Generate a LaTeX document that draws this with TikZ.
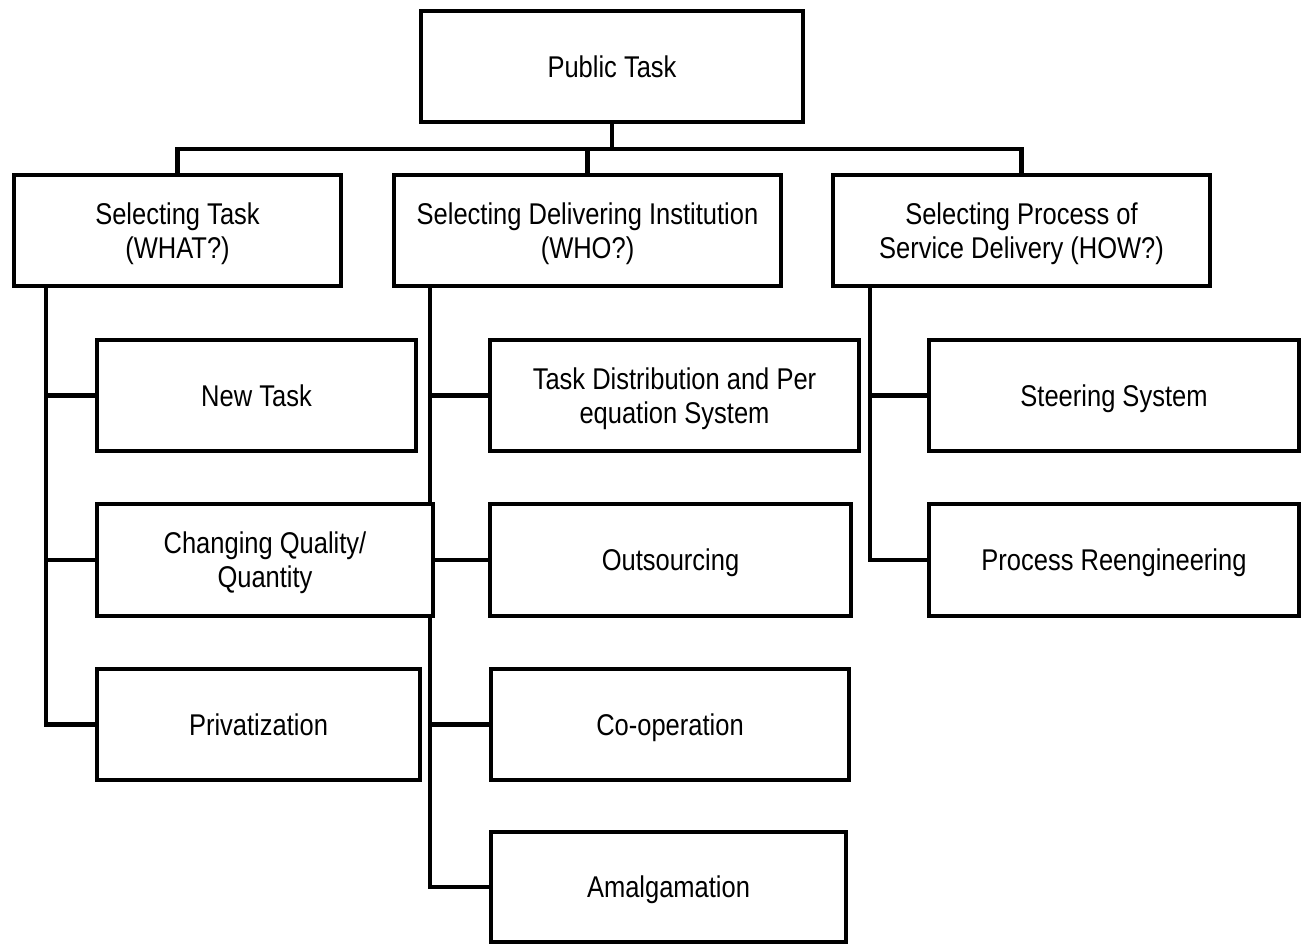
\documentclass[tikz,border=0pt]{standalone}
\usepackage{fontspec}
\setmainfont{Liberation Sans}[FakeStretch=0.85]
\usetikzlibrary{backgrounds}
\newcommand\tstrut{\rule{0pt}{28pt}}
\begin{document}
\begin{tikzpicture}[x=1pt,y=-1pt,
  box/.style={draw,line width=4.6pt,fill=white,rectangle,inner sep=0pt,outer sep=0pt,
    minimum height=111pt,align=center,font=\fontsize{30}{34}\selectfont},
  single/.style={box,text height=21.5pt,text depth=0pt},
  conn/.style={line width=4.6pt,line cap=butt,line join=miter}]
\useasboundingbox (0,0) rectangle (1302,946);
% level 1
\node[single,minimum width=382pt] (pt) at (612,66.5) {Public Task};
% level 2
\node[box,minimum width=327pt] (st) at (177.5,230.5) {\tstrut Selecting Task\\(WHAT?)};
\node[box,minimum width=387pt] (sd) at (587.5,230.5) {\tstrut Selecting Delivering Institution\\(WHO?)};
\node[box,minimum width=377pt] (sp) at (1021.5,230.5) {\tstrut Selecting Process of\\Service Delivery (HOW?)};
% left column
\node[single,minimum width=319pt] (nt) at (256.5,395.5) {New Task};
\node[box,minimum width=336pt,minimum height=112pt] (cq) at (265,560) {\tstrut Changing Quality/\\Quantity};
\node[single,minimum width=323pt] (pv) at (258.5,724.5) {Privatization};
% middle column
\node[box,minimum width=369pt] (td) at (674.5,395.5) {\tstrut Task Distribution and Per\\equation System};
\node[single,minimum width=361pt,minimum height=112pt] (os) at (670.5,560) {Outsourcing};
\node[single,minimum width=358pt] (co) at (670,724.5) {Co-operation};
\node[single,minimum width=355pt,minimum height=110pt] (am) at (668.5,887) {Amalgamation};
% right column
\node[single,minimum width=370pt] (ss) at (1114,395.5) {Steering System};
\node[single,minimum width=370pt,minimum height=112pt] (pr) at (1114,560) {Process Reengineering};
% connectors
\coordinate (bus) at (612,149);
\coordinate (lt) at (46,286);
\coordinate (mt) at (430,286);
\coordinate (rt) at (870,286);
\begin{scope}[on background layer]
\draw[conn] (pt.south) -- (bus);
\draw[conn] (st.north) |- (bus);
\draw[conn] (sp.north) |- (bus);
\draw[conn] (sd.north) -- (sd.north |- bus);
\draw[conn] (lt) |- (nt.west);
\draw[conn] (lt) |- (cq.west);
\draw[conn] (lt) |- (pv.west);
\draw[conn] (mt) |- (td.west);
\draw[conn] (mt) |- (os.west);
\draw[conn] (mt) |- (co.west);
\draw[conn] (mt) |- (am.west);
\draw[conn] (rt) |- (ss.west);
\draw[conn] (rt) |- (pr.west);
\end{scope}
\end{tikzpicture}
\end{document}
